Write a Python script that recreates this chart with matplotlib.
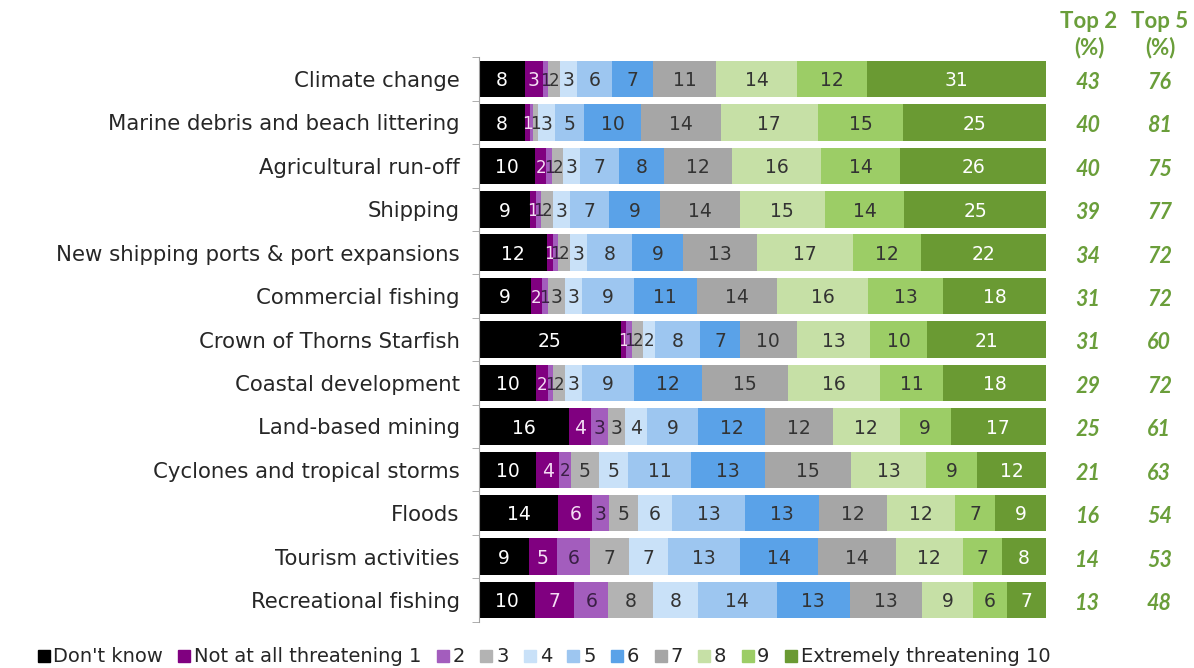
import numpy as np
import matplotlib.pyplot as plt
from matplotlib.lines import Line2D

plt.rcParams['font.family'] = 'DejaVu Sans'

threats = ['Climate change', 'Marine debris and beach littering', 'Agricultural run-off',
           'Shipping', 'New shipping ports & port expansions', 'Commercial fishing',
           'Crown of Thorns Starfish', 'Coastal development', 'Land-based mining',
           'Cyclones and tropical storms', 'Floods', 'Tourism activities',
           'Recreational fishing']

# % of respondents per rating, one list per response option (rows in threat order)
dont_know = [8, 8, 10, 9, 12, 9, 25, 10, 16, 10, 14, 9, 10]
level_1 = [3, 1, 2, 1, 1, 2, 1, 2, 4, 4, 6, 5, 7]
level_2 = [1, 0.4, 1, 1, 1, 1, 1, 1, 3, 2, 3, 6, 6]
level_3 = [2, 1, 2, 2, 2, 3, 2, 2, 3, 5, 5, 7, 8]
level_4 = [3, 3, 3, 3, 3, 3, 2, 3, 4, 5, 6, 7, 8]
level_5 = [6, 5, 7, 7, 8, 9, 8, 9, 9, 11, 13, 13, 14]
level_6 = [7, 10, 8, 9, 9, 11, 7, 12, 12, 13, 13, 14, 13]
level_7 = [11, 14, 12, 14, 13, 14, 10, 15, 12, 15, 12, 14, 13]
level_8 = [14, 17, 16, 15, 17, 16, 13, 16, 12, 13, 12, 12, 9]
level_9 = [12, 15, 14, 14, 12, 13, 10, 11, 9, 9, 7, 7, 6]
level_10 = [31, 25, 26, 25, 22, 18, 21, 18, 17, 12, 9, 8, 7]

top2 = [43, 40, 40, 39, 34, 31, 31, 29, 25, 21, 16, 14, 13]
top5 = [76, 81, 75, 77, 72, 72, 60, 72, 61, 63, 54, 53, 48]

legend_labels = ["Don't know", 'Not at all threatening 1', '2', '3', '4', '5',
                 '6', '7', '8', '9', 'Extremely threatening 10']

levels = [dont_know, level_1, level_2, level_3, level_4, level_5,
          level_6, level_7, level_8, level_9, level_10]
colors = ['#000000', '#800080', '#a35dbd', '#b3b3b3', '#c9e1f8', '#9dc6f0',
          '#5aa2e8', '#a6a6a6', '#c6e0a6', '#9ccd66', '#6a9a33']
text_colors = ['white', '#f4dcf4', '#3a1f45', '#333333', '#333333', '#333333',
               '#333333', '#333333', '#333333', '#333333', 'white']
green_txt = '#6a9e3a'

data = np.array(levels, dtype=float)
share = data / data.sum(axis=0) * 100  # 100% stacked
y = np.arange(len(threats))

fig = plt.figure(figsize=(11.94, 6.68), dpi=100)
ax = fig.add_axes([479 / 1194, 0.0693, (1046 - 479) / 1194, 0.8449])

left = np.zeros(len(threats))
for i, vals in enumerate(share):
    ax.barh(y, vals, left=left, height=0.84, color=colors[i], linewidth=0)
    for j, v in enumerate(vals):
        if round(data[i, j]) >= 1:
            # narrow slivers get a slightly smaller number so neighbours don't pile up
            fs = 12 if v < 2.5 else 13.5
            ax.text(left[j] + v / 2, y[j] + 0.04, f'{data[i, j]:.0f}',
                    ha='center', va='center', fontsize=fs, color=text_colors[i])
    left += vals

ax.set_xlim(0, 100)
ax.set_ylim(len(threats) - 0.5, -0.5)
ax.set_yticks(y)
ax.set_yticklabels(threats, fontsize=15.3, color='#262626')
ax.set_yticks(np.arange(-0.5, len(threats), 1), minor=True)
ax.tick_params(axis='y', which='major', length=0, pad=14)
ax.tick_params(axis='y', which='minor', length=5, color='#a0a0a0')
ax.set_xticks([])
for side in ['top', 'right', 'bottom']:
    ax.spines[side].set_visible(False)
ax.spines['left'].set_color('#a0a0a0')

# Top 2 / Top 5 summary columns
ytrans = ax.get_yaxis_transform()
for j in range(len(threats)):
    ax.text(1.074, y[j] + 0.08, str(top2[j]), transform=ytrans,
            ha='center', va='center', fontsize=15.5, fontweight='bold', style='italic',
            color=green_txt, family='Lato')
    ax.text(1.200, y[j] + 0.08, str(top5[j]), transform=ytrans,
            ha='center', va='center', fontsize=15.5, fontweight='bold', style='italic',
            color=green_txt, family='Lato')
for xc, head in [(1089, 'Top 2'), (1160, 'Top 5')]:
    fig.text(xc / 1194, 1 - 22 / 668, head, ha='center', va='center', fontsize=16,
             fontweight='bold', color=green_txt, family='Lato')
    fig.text(xc / 1194, 1 - 48 / 668, '(%)', ha='center', va='center', fontsize=16,
             fontweight='bold', color=green_txt, family='Lato')

handles = [Line2D([], [], marker='s', linestyle='none', markersize=8,
                  markerfacecolor=c, markeredgecolor=c) for c in colors]
fig.legend(handles, legend_labels, loc='center', bbox_to_anchor=(544 / 1194, 1 - 657 / 668),
           ncol=11, frameon=False, fontsize=14, handlelength=0.6, handletextpad=0.2,
           columnspacing=0.8, labelcolor='#262626')

fig.savefig('out.png', dpi=100)
